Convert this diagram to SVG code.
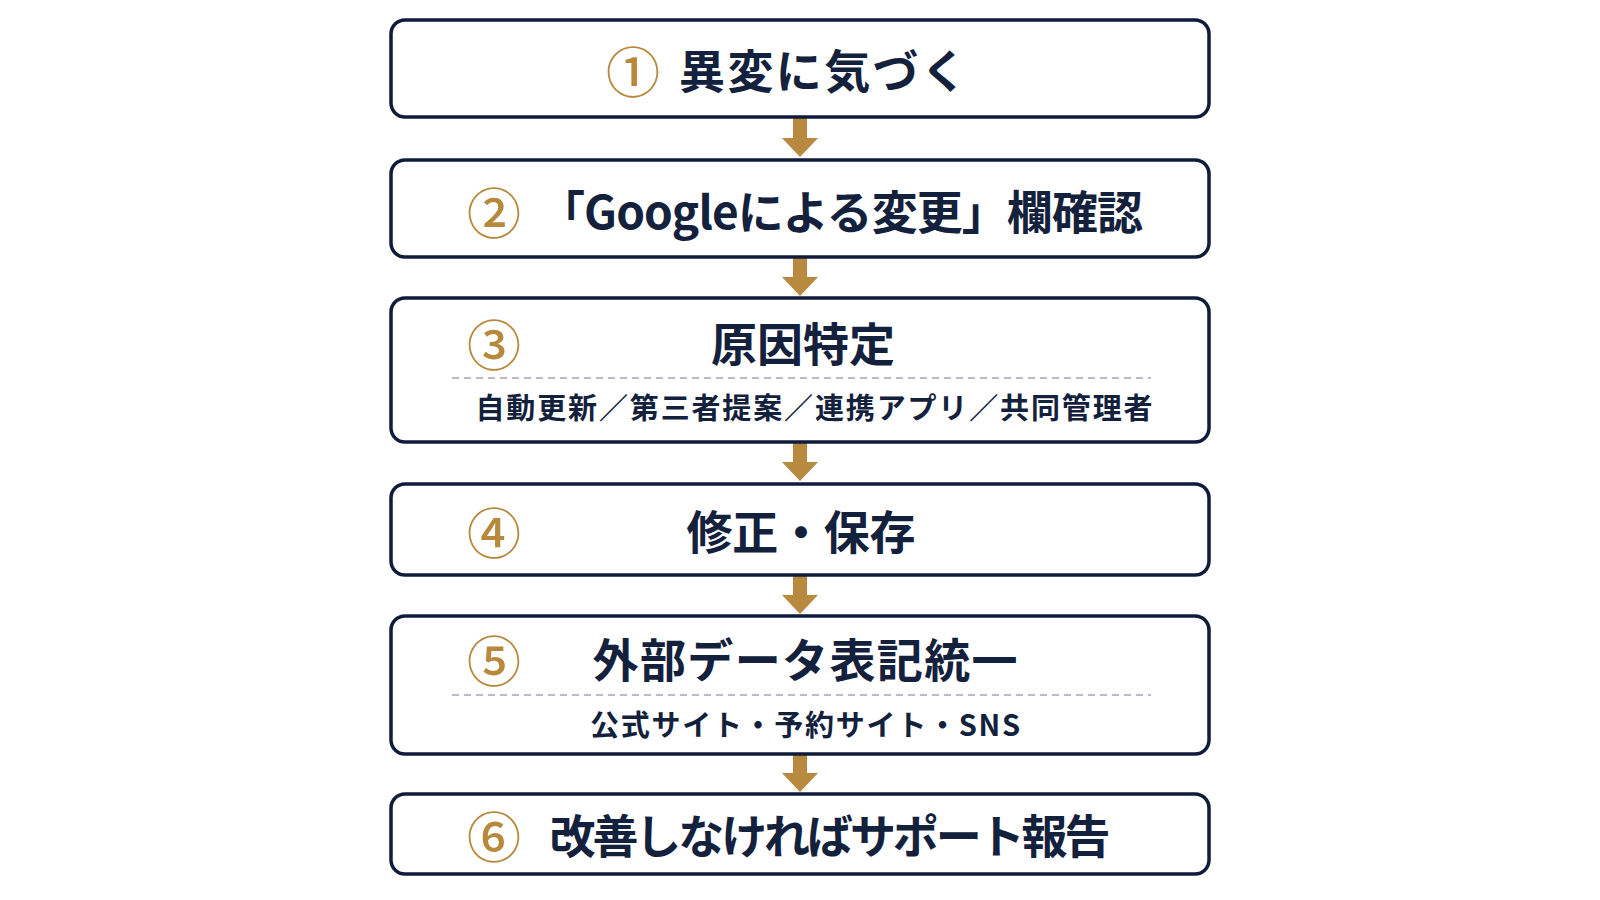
<svg xmlns="http://www.w3.org/2000/svg" width="1600" height="900" viewBox="0 0 1600 900">
<style>
.box{fill:#ffffff;stroke:#101c3c;stroke-width:3.5}
.num{font-family:"Noto Sans CJK JP","Noto Sans",sans-serif;font-size:54px;font-weight:500;fill:#b8893c;text-anchor:middle;dominant-baseline:central}
.title{font-family:"Noto Sans CJK JP","Noto Sans",sans-serif;font-size:46px;font-weight:700;fill:#14213d;text-anchor:middle;dominant-baseline:central}
.sub{font-family:"Noto Sans CJK JP","Noto Sans",sans-serif;font-size:29px;font-weight:700;fill:#14213d;text-anchor:middle;dominant-baseline:central}
.dash{stroke:#b9bdcb;stroke-width:2;stroke-dasharray:7 5}
.arrow{fill:#b8893e}
</style>
<rect width="1600" height="900" fill="#ffffff"/>
<g id="connectors">
<polygon class="arrow" points="793,118 807,118 807,138 818,138 800,157 782,138 793,138"/>
<polygon class="arrow" points="793,258 807,258 807,277 818,277 800,296 782,277 793,277"/>
<polygon class="arrow" points="793,443 807,443 807,462 818,462 800,481 782,462 793,462"/>
<polygon class="arrow" points="793,576 807,576 807,595 818,595 800,614 782,595 793,595"/>
<polygon class="arrow" points="793,755 807,755 807,773 818,773 800,792 782,773 793,773"/>
</g>
<g id="step1">
<rect class="box" x="391" y="20" width="818" height="97" rx="14"/>
<text class="num" x="633" y="69">①</text>
<text class="title" x="823" y="68" textLength="288" lengthAdjust="spacing">異変に気づく</text>
</g>
<g id="step2">
<rect class="box" x="391" y="160" width="818" height="97" rx="14"/>
<text class="num" x="494" y="210">②</text>
<text class="title" x="841" y="209" textLength="604" lengthAdjust="spacing">「Googleによる変更」欄確認</text>
</g>
<g id="step3">
<rect class="box" x="391" y="298" width="818" height="144" rx="14"/>
<text class="num" x="494" y="342">③</text>
<text class="title" x="803" y="341" textLength="184" lengthAdjust="spacing">原因特定</text>
<line class="dash" x1="452" y1="378" x2="1151" y2="378"/>
<text class="sub" x="814" y="406" textLength="677" lengthAdjust="spacing">自動更新／第三者提案／連携アプリ／共同管理者</text>
</g>
<g id="step4">
<rect class="box" x="391" y="484" width="818" height="91" rx="14"/>
<text class="num" x="494" y="530">④</text>
<text class="title" x="801" y="529" textLength="229" lengthAdjust="spacing">修正・保存</text>
</g>
<g id="step5">
<rect class="box" x="391" y="616" width="818" height="138" rx="14"/>
<text class="num" x="494" y="658">⑤</text>
<text class="title" x="805" y="657" textLength="425" lengthAdjust="spacing">外部データ表記統一</text>
<line class="dash" x1="452" y1="695" x2="1151" y2="695"/>
<text class="sub" x="805" y="723" textLength="430" lengthAdjust="spacing">公式サイト・予約サイト・SNS</text>
</g>
<g id="step6">
<rect class="box" x="391" y="794" width="818" height="80" rx="14"/>
<text class="num" x="494" y="834">⑥</text>
<text class="title" x="830" y="833" textLength="561" lengthAdjust="spacing">改善しなければサポート報告</text>
</g>
</svg>
